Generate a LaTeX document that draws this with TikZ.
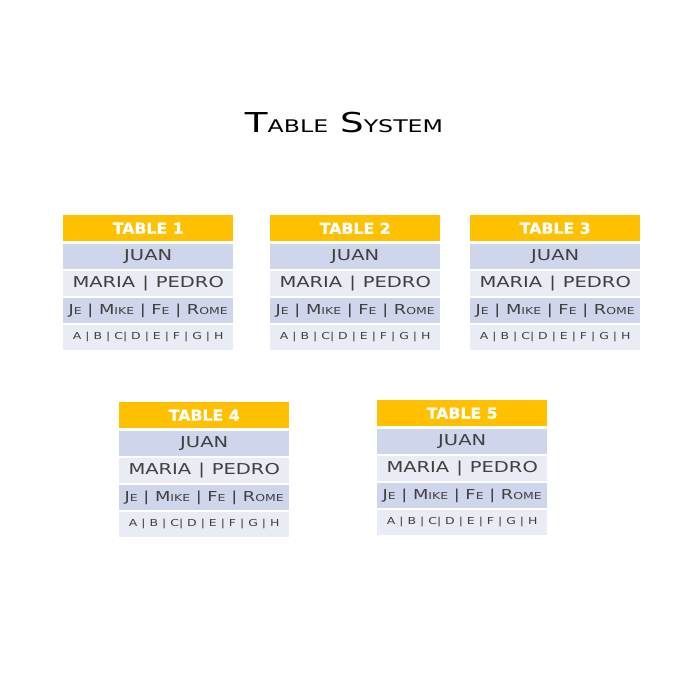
\documentclass[tikz,border=0pt]{standalone}
\usepackage{fontspec}
\usetikzlibrary{positioning}
\newfontfamily\cellfont[FakeStretch=1.3]{DejaVu Sans}
\newfontfamily\titlefont[FakeStretch=1.36]{DejaVu Sans}
\newfontfamily\headfont[FakeStretch=1.05,FakeBold=1.2]{DejaVu Sans Bold}
\definecolor{gold}{HTML}{FFC000}
\definecolor{rowdark}{HTML}{CFD5EA}
\definecolor{rowlight}{HTML}{E9EBF5}
\definecolor{ink}{HTML}{404040}
% big first letter, rest in smaller capitals
\newcommand{\fakesc}[3]{#2{\fontsize{#1}{#1}\selectfont #3}}

\begin{document}
\begin{tikzpicture}[x=1pt,y=-1pt,
		header/.style={fill=gold,text=white,inner sep=0pt,minimum width=170pt,minimum height=26pt,
			font=\headfont\fontsize{15}{15}\selectfont},
		cell/.style={inner sep=0pt,minimum width=170pt,minimum height=25pt,text=ink,
			font=\cellfont\fontsize{15}{15}\selectfont},
		dark/.style={cell,fill=rowdark},
		light/.style={cell,fill=rowlight}]
		\useasboundingbox (0,0) rectangle (700,700);
		\node [anchor=base,font=\titlefont\fontsize{27.4}{28}\selectfont] (title) at (344,133)
			{\fakesc{17.4}{T}{ABLE} \fakesc{17.4}{S}{YSTEM}};
		% the five tables
		\foreach \x/\y/\n in {63/215/1,270/215/2,470/215/3,119/402/4,377/400/5}{
			\node [header,anchor=north west] (hd\n) at (\x,\y) {TABLE \n};
			\node [dark,below=2pt of hd\n] (ra\n) {JUAN};
			\node [light,below=2pt of ra\n] (rb\n) {MARIA\hspace{7pt}|\hspace{7pt}PEDRO};
			\node [dark,below=1.5pt of rb\n,font=\cellfont\fontsize{13.7}{14}\selectfont] (rc\n)
				{\fakesc{9.6}{J}{E} | \fakesc{9.6}{M}{IKE} | \fakesc{9.6}{F}{E} | \fakesc{9.6}{R}{OME}};
			\node [light,below=1.5pt of rc\n,font=\cellfont\fontsize{9.6}{10}\selectfont] (rd\n)
				{A | B | C| D | E | F | G | H};
		}
	\end{tikzpicture}
\end{document}
